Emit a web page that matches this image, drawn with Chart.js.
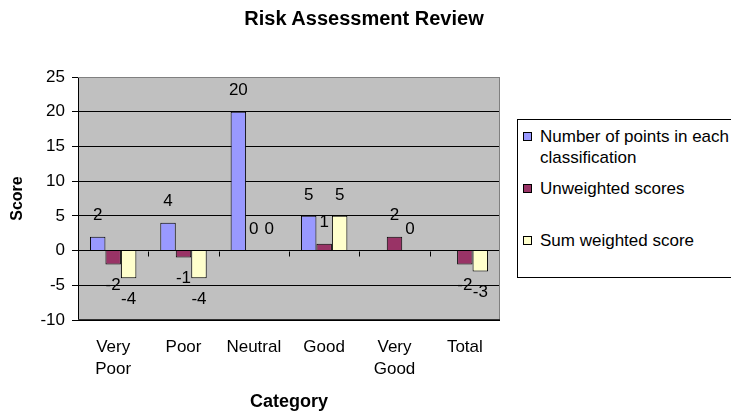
<!DOCTYPE html>
<html><head><meta charset="utf-8">
<script src="https://cdn.jsdelivr.net/npm/chart.js@4/dist/chart.umd.min.js"></script>
<style>
html,body{margin:0;padding:0;background:#fff;}
#wrap{position:relative;width:731px;height:413px;overflow:hidden;}
#c{position:absolute;left:0;top:0;}
#title{position:absolute;left:164px;width:400px;top:6px;text-align:center;font:bold 20px "Liberation Sans",Arial,sans-serif;line-height:24px;color:#000;}
#legend{position:absolute;left:517px;top:119px;width:240px;height:157px;border:1px solid #000;background:#fff;font:17px "Liberation Sans",Arial,sans-serif;color:#000;}
.sw{position:absolute;left:5px;width:7px;height:7px;border:1px solid #000;}
.lbl{position:absolute;left:22px;width:194px;line-height:21px;}
</style></head>
<body>
<div id="wrap"><canvas id="c" width="731" height="413"></canvas><div id="title"></div><div id="legend"></div></div>
<script>
const chartTitle = "Risk Assessment Review";
const categories = [["Very","Poor"], "Poor", "Neutral", "Good", ["Very","Good"], "Total"];
const seriesNames = ["Number of points in each classification", "Unweighted scores", "Sum weighted score"];
const pointsInClass = [2, 4, 20, 5, null, null];
const unweightedScores = [-2, -1, 0, 1, 2, -2];
const sumWeightedScore = [-4, -4, 0, 5, 0, -3];
const seriesColors = ["#9999FF", "#993366", "#FFFFCC"];
const yTicks = [-10, -5, 0, 5, 10, 15, 20, 25];

const FONT = '"Liberation Sans", Arial, sans-serif';

document.getElementById('title').textContent = chartTitle;

// legend (HTML)
const legendTops = [5.5, 57.5, 109.5];
const lg = document.getElementById('legend');
seriesNames.forEach((n, i) => {
  const sw = document.createElement('div');
  sw.className = 'sw'; sw.style.background = seriesColors[i];
  sw.style.top = (legendTops[i] + 10.5 - 4) + 'px';
  const t = document.createElement('div');
  t.className = 'lbl'; t.style.top = legendTops[i] + 'px'; t.textContent = n;
  lg.appendChild(sw); lg.appendChild(t);
});

const plotBg = {
  id: 'plotBg',
  beforeDraw(chart) {
    const {ctx, chartArea: a} = chart;
    ctx.save(); ctx.fillStyle = '#C0C0C0';
    ctx.fillRect(a.left, a.top, a.right - a.left, a.bottom - a.top);
    ctx.restore();
  },
  beforeDatasetsDraw(chart) {
    const {ctx, chartArea: a, scales} = chart;
    ctx.save();
    ctx.strokeStyle = '#808080'; ctx.lineWidth = 1;
    ctx.beginPath();
    ctx.moveTo(a.left, a.top + 0.5); ctx.lineTo(a.right - 0.5, a.top + 0.5);
    ctx.lineTo(a.right - 0.5, a.bottom - 0.5);
    ctx.stroke();
    ctx.strokeStyle = '#333'; ctx.beginPath();
    ctx.moveTo(a.left, a.bottom - 0.5); ctx.lineTo(a.right, a.bottom - 0.5); ctx.stroke();
    // category tick marks on zero line
    const x = scales.x, y0 = Math.round(scales.y.getPixelForValue(0)) + 0.5;
    ctx.strokeStyle = '#000'; ctx.beginPath();
    for (let i = 1; i < categories.length; i++) {
      const px = Math.round((x.getPixelForValue(i - 1) + x.getPixelForValue(i)) / 2) + 0.5;
      ctx.moveTo(px, y0); ctx.lineTo(px, y0 + 5);
    }
    ctx.stroke();
    ctx.restore();
  },
  afterDatasetsDraw(chart) {
    const {ctx} = chart;
    ctx.save();
    ctx.font = '17px ' + FONT; ctx.fillStyle = '#000';
    ctx.textAlign = 'center'; ctx.textBaseline = 'middle';
    chart.data.datasets.forEach((ds, di) => {
      const meta = chart.getDatasetMeta(di);
      meta.data.forEach((el, i) => {
        const v = ds.data[i];
        if (v === null || v === undefined) return;
        const yy = v >= 0 ? el.y - 21 : el.y + 21;
        ctx.fillText(String(v), el.x, yy);
      });
    });
    ctx.restore();
  }
};

new Chart(document.getElementById('c'), {
  type: 'bar',
  data: {
    labels: categories,
    datasets: [
      {label: seriesNames[0], data: pointsInClass},
      {label: seriesNames[1], data: unweightedScores},
      {label: seriesNames[2], data: sumWeightedScore}
    ].map((d, i) => Object.assign(d, {backgroundColor: seriesColors[i], borderColor: '#000', borderWidth: 1, categoryPercentage: 0.66, barPercentage: 1.0}))
  },
  options: {
    responsive: false, animation: false,
    layout: {padding: {left: 0, right: 231, top: 77, bottom: 0}},
    plugins: {
      legend: {display: false}, tooltip: {enabled: false}, title: {display: false}
    },
    scales: {
      x: {
        grid: {display: false, drawTicks: false},
        border: {display: false},
        ticks: {color: '#000', font: {family: FONT, size: 17, lineHeight: 1.3}, padding: 16, maxRotation: 0, autoSkip: false},
        title: {display: true, text: 'Category', color: '#000', font: {family: FONT, size: 18, weight: 'bold', lineHeight: 1.2}, padding: {top: 0, bottom: 0}},
        afterFit(s) { s.height = 93; }
      },
      y: {
        min: -10, max: 25,
        afterBuildTicks(s) { s.ticks = yTicks.map(v => ({value: v})); },
        grid: {color: c => (c.tick && c.tick.value === 25) ? '#808080' : '#000', lineWidth: 1, drawTicks: true, tickLength: 6, tickColor: '#000'},
        border: {display: true, color: '#000', width: 1},
        ticks: {color: '#000', font: {family: FONT, size: 17}, padding: 7},
        title: {display: true, text: 'Score', color: '#000', font: {family: FONT, size: 16, weight: 'bold', lineHeight: 1.2}, padding: {top: 8, bottom: 0}},
        afterFit(s) { s.width = 78; }
      }
    }
  },
  plugins: [plotBg]
});
</script>
</body></html>
